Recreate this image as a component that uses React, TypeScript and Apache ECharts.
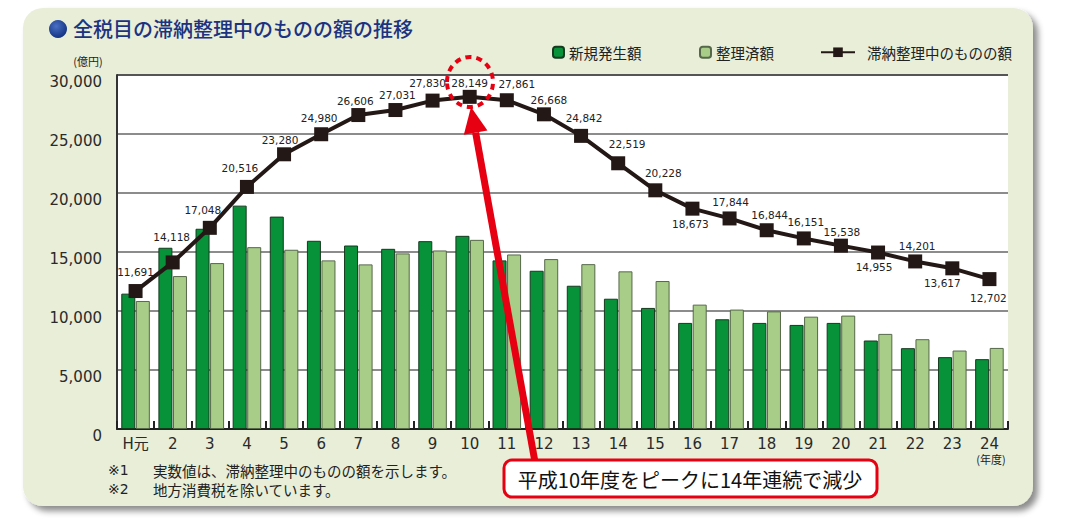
import React, { useEffect, useRef } from "react";
import * as echarts from "echarts";

const categories = ["H元", "2", "3", "4", "5", "6", "7", "8", "9", "10", "11", "12", "13", "14", "15", "16", "17", "18", "19", "20", "21", "22", "23", "24"];
const newArrears = [11470, 15360, 16970, 18930, 18000, 15950, 15550, 15270, 15920, 16370, 14290, 13410, 12140, 11040, 10260, 8990, 9300, 8990, 8820, 8990, 7500, 6850, 6090, 5920];
const settled = [10850, 12960, 14060, 15410, 15190, 14290, 13950, 14880, 15130, 16030, 14790, 14400, 13970, 13360, 12540, 10540, 10120, 9970, 9520, 9610, 8060, 7610, 6650, 6870];
const outstanding = [11691, 14118, 17048, 20516, 23280, 24980, 26606, 27031, 27830, 28149, 27861, 26668, 24842, 22519, 20228, 18673, 17844, 16844, 16151, 15538, 14955, 14201, 13617, 12702];
const yTicks = [0, 5000, 10000, 15000, 20000, 25000, 30000];

const seriesNames = ["新規発生額", "整理済額", "滞納整理中のものの額"];
const titleText = "全税目の滞納整理中のものの額の推移";
const noteMarks = ["※1", "※2"];
const noteTexts = ["実数値は、滞納整理中のものの額を示します。", "地方消費税を除いています。"];
const calloutText = "平成10年度をピークに14年連続で減少";
const unitText = "(億円)";
const yearText = "(年度)";

// label offsets (style only) relative to each marker centre
const labelOffsets = [
  [0, -19], [-1, -25], [-7, -18], [-7, -19], [-4, -14], [-2, -16], [-3, -14], [2, -15],
  [-5, -18], [0, -14], [10, -16], [5, -14], [3, -18], [9, -19], [8, -17], [-2, 15],
  [1, -16], [3, -15], [2, -16], [1, -14], [-4, 14], [2, -15], [-10, 15], [-1, 19],
];

const fmt = (v: number) => v.toLocaleString("en-US");
const CJK = "'Noto Sans CJK JP', sans-serif";
const NUM = "'DejaVu Sans', 'Noto Sans CJK JP', sans-serif";
const RED = "#e60012";

export default function App() {
  const ref = useRef<HTMLDivElement>(null);
  useEffect(() => {
    if (!ref.current) return;
    const chart = echarts.init(ref.current, undefined, { renderer: "svg" });

    const dir = { x: 535 - 471, y: 460 - 107 };
    const len = Math.sqrt(dir.x * dir.x + dir.y * dir.y);
    const ux = dir.x / len, uy = dir.y / len;
    const tip = [471, 107];
    const headLen = 26, headHalf = 12;
    const base = [tip[0] + ux * headLen, tip[1] + uy * headLen];
    const px = -uy, py = ux;

    const option: any = {
      animation: false,
      backgroundColor: "#ffffff",
      title: {
        text: titleText,
        left: 73,
        top: 18,
        padding: 0,
        textStyle: { fontFamily: CJK, fontSize: 20, fontWeight: 500, color: "#1b3380" },
      },
      legend: [
        {
          data: [seriesNames[0]], left: 552, top: 45, padding: 0,
          itemWidth: 11, itemHeight: 11,
          textStyle: { fontFamily: CJK, fontSize: 14.5, color: "#222" },
        },
        {
          data: [seriesNames[1]], left: 699, top: 45, padding: 0,
          itemWidth: 11, itemHeight: 11,
          textStyle: { fontFamily: CJK, fontSize: 14.5, color: "#222" },
        },
        {
          data: [seriesNames[2]], left: 820, top: 45, padding: 0,
          itemWidth: 34, itemHeight: 12,
          lineStyle: { width: 2 },
          textStyle: { fontFamily: CJK, fontSize: 14.5, color: "#222", padding: [0, 0, 0, 7] },
        },
      ],
      grid: {
        left: 117, top: 75, right: 61, bottom: 101,
        show: true, backgroundColor: "#ffffff", borderWidth: 0,
      },
      xAxis: {
        type: "category",
        data: categories,
        axisLine: { show: true, lineStyle: { color: "#222", width: 2 } },
        axisTick: { show: true, inside: true, length: 8, lineStyle: { color: "#222", width: 2 } },
        axisLabel: { fontFamily: NUM, fontSize: 15, lineHeight: 15, color: "#2a2a2a", margin: 7, interval: 0 },
      },
      yAxis: {
        type: "value",
        min: 0, max: 30000, interval: 5000,
        axisLine: { show: true, lineStyle: { color: "#333", width: 2 } },
        axisTick: { show: false },
        axisLabel: {
          fontFamily: NUM, fontSize: 15, lineHeight: 14, color: "#2a2a2a", margin: 15,
          verticalAlign: "top",
          formatter: (v: number) => fmt(v),
        },
        splitLine: {
          show: true,
          lineStyle: { color: yTicks.map((t) => (t === 30000 ? "#555" : "#8c8c8c")), width: 2 },
        },
      },
      series: [
        {
          name: seriesNames[0], type: "bar", data: newArrears,
          barWidth: 14, barGap: "4%",
          itemStyle: { color: "#079139", borderColor: "#173a1f", borderWidth: 1 },
        },
        {
          name: seriesNames[1], type: "bar", data: settled,
          barWidth: 14, barGap: "4%",
          itemStyle: { color: "#a8cd88", borderColor: "#56684a", borderWidth: 1 },
        },
        {
          name: seriesNames[2], type: "line",
          data: outstanding.map((v, i) => ({
            value: v,
            label: { offset: labelOffsets[i] },
          })),
          symbol: "rect", symbolSize: 14,
          itemStyle: { color: "#231815" },
          lineStyle: { color: "#231815", width: 4 },
          z: 5,
          label: {
            show: true, position: "inside",
            fontFamily: NUM, fontSize: 10.5, color: "#222",
            formatter: (p: any) => fmt(p.value),
          },
        },
      ],
      graphic: [
        {
          type: "rect", z: -10,
          shape: { x: 23, y: 8, width: 1010, height: 498, r: 20 },
          style: {
            fill: "#e8eed8", shadowBlur: 6, shadowOffsetX: 5, shadowOffsetY: 5,
            shadowColor: "rgba(0,0,0,0.45)",
          },
        },
        {
          type: "circle", z: 10,
          shape: { cx: 58, cy: 29, r: 9 },
          style: {
            fill: new echarts.graphic.RadialGradient(0.4, 0.35, 0.7, [
              { offset: 0, color: "#4a6fc4" },
              { offset: 1, color: "#102f80" },
            ]),
          },
        },
        {
          type: "text", z: 10, x: 88, y: 61,
          style: { text: unitText, fontFamily: CJK, fontSize: 11, lineHeight: 12, fill: "#222", align: "center", verticalAlign: "middle" },
        },
        {
          type: "text", z: 10, x: 991, y: 459,
          style: { text: yearText, fontFamily: CJK, fontSize: 11, lineHeight: 12, fill: "#222", align: "center", verticalAlign: "middle" },
        },
        {
          type: "text", z: 10, x: 108, y: 470,
          style: { text: noteMarks[0], fontFamily: NUM, fontSize: 14, lineHeight: 16, fill: "#222", verticalAlign: "middle" },
        },
        {
          type: "text", z: 10, x: 153, y: 470,
          style: { text: noteTexts[0], fontFamily: CJK, fontSize: 14.5, lineHeight: 16, fill: "#222", verticalAlign: "middle" },
        },
        {
          type: "text", z: 10, x: 108, y: 489,
          style: { text: noteMarks[1], fontFamily: NUM, fontSize: 14, lineHeight: 16, fill: "#222", verticalAlign: "middle" },
        },
        {
          type: "text", z: 10, x: 153, y: 489,
          style: { text: noteTexts[1], fontFamily: CJK, fontSize: 14.5, lineHeight: 16, fill: "#222", verticalAlign: "middle" },
        },
        {
          type: "ellipse", z: 100,
          shape: { cx: 470, cy: 82, rx: 23, ry: 25 },
          style: { fill: "none", stroke: RED, lineWidth: 4, lineDash: [6, 5] },
        },
        {
          type: "line", z: 100,
          shape: { x1: 535, y1: 462, x2: base[0], y2: base[1] },
          style: { stroke: RED, lineWidth: 7 },
        },
        {
          type: "polygon", z: 100,
          shape: {
            points: [
              tip,
              [base[0] + px * headHalf, base[1] + py * headHalf],
              [base[0] - px * headHalf, base[1] - py * headHalf],
            ],
          },
          style: { fill: RED },
        },
        {
          type: "rect", z: 101,
          shape: { x: 504, y: 460, width: 373, height: 37, r: 8 },
          style: { fill: "#ffffff", stroke: RED, lineWidth: 3 },
        },
        {
          type: "text", z: 102, x: 690, y: 479,
          style: { text: calloutText, fontFamily: CJK, fontSize: 20, fill: "#111", align: "center", verticalAlign: "middle" },
        },
      ],
    };
    chart.setOption(option);
    return () => chart.dispose();
  }, []);
  return (
    <div
      ref={ref}
      style={{ position: "fixed", left: 0, top: 0, width: 1069, height: 530, background: "#fff" }}
    />
  );
}
